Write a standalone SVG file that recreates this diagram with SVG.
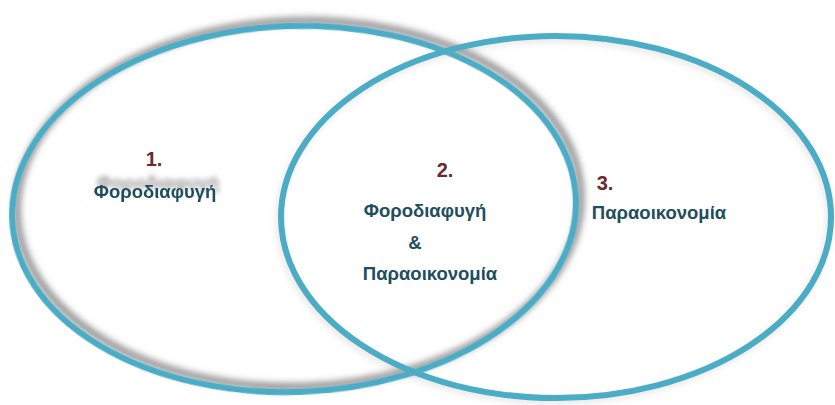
<svg xmlns="http://www.w3.org/2000/svg" width="835" height="405" viewBox="0 0 835 405">
<style>
.ring{fill:none;stroke:#4BACC6;stroke-width:6}
.lbl{font-family:"Liberation Sans",Arial,sans-serif;font-weight:bold;font-size:18.5px;fill:#1F4E5E;text-anchor:middle}
.num{font-family:"Liberation Sans",Arial,sans-serif;font-weight:bold;font-size:20px;fill:#6E2A2A;text-anchor:middle}
</style>
<defs>
<filter id="shL" x="-10%" y="-10%" width="120%" height="120%">
<feGaussianBlur in="SourceAlpha" stdDeviation="3.5"/>
<feOffset dx="5" dy="-5" result="b"/>
<feFlood flood-color="#555555" flood-opacity="0.8"/>
<feComposite in2="b" operator="in" result="s"/>
<feMerge><feMergeNode in="s"/><feMergeNode in="SourceGraphic"/></feMerge>
</filter>
<filter id="shR" x="-10%" y="-10%" width="120%" height="120%">
<feGaussianBlur in="SourceAlpha" stdDeviation="3"/>
<feOffset dx="-2" dy="3" result="b"/>
<feFlood flood-color="#9a9a9a" flood-opacity="0.25"/>
<feComposite in2="b" operator="in" result="s"/>
<feMerge><feMergeNode in="s"/><feMergeNode in="SourceGraphic"/></feMerge>
</filter>
<filter id="ghost" x="-20%" y="-80%" width="140%" height="260%">
<feGaussianBlur in="SourceAlpha" stdDeviation="2.5"/>
<feOffset dx="3" dy="-9" result="b"/>
<feFlood flood-color="#7a7a7a" flood-opacity="0.75"/>
<feComposite in2="b" operator="in" result="s"/>
<feMerge><feMergeNode in="s"/><feMergeNode in="SourceGraphic"/></feMerge>
</filter>
</defs>
<rect width="835" height="405" fill="#ffffff"/>
<g id="set1">
<ellipse class="ring" cx="294" cy="209" rx="282" ry="183" transform="rotate(-2 294 209)" filter="url(#shL)"/>
</g>
<g id="set2">
<ellipse class="ring" cx="556" cy="217" rx="275" ry="181" filter="url(#shR)"/>
</g>
<g id="region1">
<text class="num" x="154" y="166">1.</text>
<text class="lbl" x="155" y="198" filter="url(#ghost)">Φοροδιαφυγή</text>
</g>
<g id="region2">
<text class="num" x="445" y="177">2.</text>
<text class="lbl" x="425" y="217">Φοροδιαφυγή</text>
<text class="lbl" x="415" y="249">&amp;</text>
<text class="lbl" x="430" y="280">Παραοικονομία</text>
</g>
<g id="region3">
<text class="num" x="605" y="190">3.</text>
<text class="lbl" x="659" y="219">Παραοικονομία</text>
</g>
</svg>
